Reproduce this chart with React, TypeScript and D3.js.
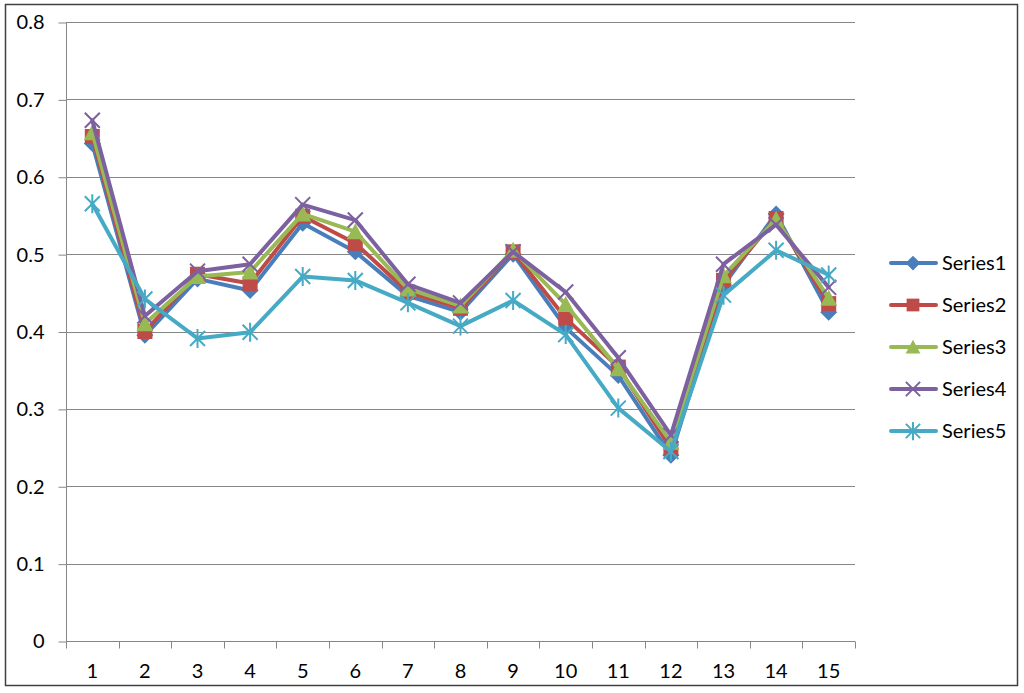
import React, { useEffect, useRef } from 'react';
import * as d3 from 'd3';

const categories = ['1', '2', '3', '4', '5', '6', '7', '8', '9', '10', '11', '12', '13', '14', '15'];
const series1 = [0.643, 0.395, 0.468, 0.453, 0.54, 0.503, 0.446, 0.425, 0.5, 0.405, 0.343, 0.24, 0.46, 0.552, 0.425];
const series2 = [0.652, 0.4, 0.474, 0.462, 0.549, 0.514, 0.451, 0.43, 0.503, 0.417, 0.354, 0.249, 0.466, 0.546, 0.436];
const series3 = [0.657, 0.41, 0.471, 0.477, 0.552, 0.529, 0.455, 0.433, 0.505, 0.435, 0.352, 0.257, 0.472, 0.545, 0.443];
const series4 = [0.673, 0.42, 0.478, 0.487, 0.564, 0.544, 0.461, 0.437, 0.503, 0.451, 0.366, 0.266, 0.487, 0.538, 0.457];
const series5 = [0.565, 0.442, 0.391, 0.399, 0.471, 0.466, 0.437, 0.407, 0.44, 0.396, 0.301, 0.245, 0.447, 0.505, 0.473];
const seriesNames = ['Series1', 'Series2', 'Series3', 'Series4', 'Series5'];
const yTicks = [0, 0.1, 0.2, 0.3, 0.4, 0.5, 0.6, 0.7, 0.8];

const colors = ['#4A7EBB', '#BE4B48', '#98B954', '#7D60A0', '#46AAC5'];
const font = 'Lato, "Open Sans", sans-serif';
const fontSize = '20px';

// draw a marker of the given kind centred at 0,0 inside g
const drawMarker = (g, kind, color, scale = 1) => {
  const s = 7.5 * scale;
  if (kind === 0) {
    g.append('path').attr('d', `M0,${-s - 1}L${s + 1},0L0,${s + 1}L${-s - 1},0Z`).attr('fill', color);
  } else if (kind === 1) {
    g.append('rect').attr('x', -s).attr('y', -s).attr('width', 2 * s).attr('height', 2 * s).attr('fill', color);
  } else if (kind === 2) {
    g.append('path').attr('d', `M0,${-s - 1}L${s + 1},${s}L${-s - 1},${s}Z`).attr('fill', color);
  } else if (kind === 3) {
    g.append('path')
      .attr('d', `M${-s},${-s}L${s},${s}M${s},${-s}L${-s},${s}`)
      .attr('stroke', color).attr('stroke-width', 2).attr('fill', 'none');
  } else {
    g.append('path')
      .attr('d', `M${-s},${-s}L${s},${s}M${s},${-s}L${-s},${s}M0,${-s - 2}L0,${s + 2}`)
      .attr('stroke', color).attr('stroke-width', 2).attr('fill', 'none');
  }
};

const App = () => {
  const svgRef = useRef(null);

  useEffect(() => {
    const width = 1024;
    const height = 693;
    const plot = { left: 66, right: 855, top: 22, bottom: 641 };

    const svg = d3.select(svgRef.current);
    svg.selectAll('*').remove();
    svg.attr('width', width).attr('height', height);

    svg.append('rect').attr('width', width).attr('height', height).attr('fill', '#fff');
    svg.append('rect')
      .attr('x', 5.5).attr('y', 4.5).attr('width', 1012).attr('height', 681)
      .attr('fill', 'none').attr('stroke', '#404040').attr('stroke-width', 1.5);

    const x = d3.scaleBand().domain(categories).range([plot.left, plot.right]);
    const y = d3.scaleLinear().domain([0, 0.8]).range([plot.bottom, plot.top]);

    // gridlines
    svg.append('g').selectAll('line').data(yTicks.filter((t) => t > 0)).join('line')
      .attr('x1', plot.left).attr('x2', plot.right)
      .attr('y1', (d) => Math.round(y(d)) + 0.5).attr('y2', (d) => Math.round(y(d)) + 0.5)
      .attr('stroke', '#868686').attr('stroke-width', 1);

    // y axis
    const yAxis = svg.append('g').attr('transform', `translate(${plot.left + 0.5},0.5)`)
      .call(d3.axisLeft(y).tickValues(yTicks).tickSize(8).tickPadding(14).tickFormat((d) => (d === 0 ? '0' : d3.format('.1f')(d))));
    yAxis.select('.domain').attr('stroke', '#868686').attr('d', `M0,${plot.top}V${plot.bottom}`);
    yAxis.selectAll('.tick line').attr('stroke', '#868686');
    yAxis.selectAll('text').attr('fill', '#000').style('font-family', font).style('font-size', fontSize);

    // x axis
    const xAxis = svg.append('g').attr('transform', `translate(0,${plot.bottom + 0.5})`);
    xAxis.append('line').attr('x1', plot.left).attr('x2', plot.right).attr('stroke', '#868686');
    const bounds = categories.map((c) => x(c)).concat([plot.right]);
    xAxis.selectAll('line.tk').data(bounds).join('line').attr('class', 'tk')
      .attr('x1', (d) => Math.round(d) + 0.5).attr('x2', (d) => Math.round(d) + 0.5)
      .attr('y1', 0).attr('y2', 7).attr('stroke', '#868686');
    xAxis.selectAll('text').data(categories).join('text')
      .attr('x', (d) => x(d) + x.bandwidth() / 2).attr('y', 36)
      .attr('text-anchor', 'middle').style('font-family', font).style('font-size', fontSize)
      .text((d) => d);

    // series
    const allSeries = [series1, series2, series3, series4, series5];
    const line = d3.line().x((d, i) => x(categories[i]) + x.bandwidth() / 2).y((d) => y(d));

    allSeries.forEach((values, si) => {
      const g = svg.append('g');
      g.append('path').datum(values).attr('d', line)
        .attr('fill', 'none').attr('stroke', colors[si]).attr('stroke-width', 4)
        .attr('stroke-linejoin', 'round').attr('stroke-linecap', 'round');
      values.forEach((v, i) => {
        const m = g.append('g').attr('transform', `translate(${x(categories[i]) + x.bandwidth() / 2},${y(v)})`);
        drawMarker(m, si, colors[si]);
      });
    });

    // legend
    const legend = svg.append('g');
    seriesNames.forEach((name, i) => {
      const ly = 263 + i * 42;
      const lg = legend.append('g');
      lg.append('line').attr('x1', 891).attr('x2', 936).attr('y1', ly).attr('y2', ly)
        .attr('stroke', colors[i]).attr('stroke-width', 4).attr('stroke-linecap', 'round');
      const m = lg.append('g').attr('transform', `translate(913,${ly})`);
      drawMarker(m, i, colors[i], i === 3 || i === 4 ? 0.95 : 0.85);
      lg.append('text').attr('x', 942).attr('y', ly + 7)
        .style('font-family', font).style('font-size', fontSize).text(name);
    });
  }, []);

  return (
    <div style={{ position: 'absolute', left: 0, top: 0 }}>
      <svg ref={svgRef} style={{ display: 'block' }}></svg>
    </div>
  );
};

export default App;
